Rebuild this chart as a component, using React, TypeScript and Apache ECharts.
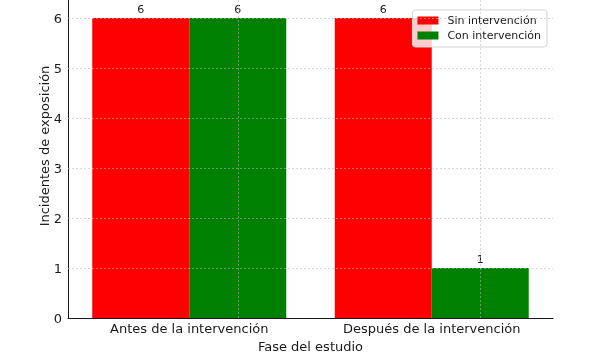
import React, { useEffect, useRef } from "react";
import * as echarts from "echarts";

const categories = ["Antes de la intervención", "Después de la intervención"];
const seriesNames = ["Sin intervención", "Con intervención"];
const sinIntervencion = [6, 6];
const conIntervencion = [6, 1];
const yGridTicks = [1, 2, 3, 4, 5, 6];
const yAxisTitle = "Incidentes de exposición";
const xAxisTitle = "Fase del estudio";

export default function App() {
  const ref = useRef<HTMLDivElement>(null);
  useEffect(() => {
    const chart = echarts.init(ref.current!, null, { renderer: "svg" });
    const font = "DejaVu Sans";
    const ink = "#1a1a1a";
    const gridLine = { color: "rgba(185,185,185,0.7)", width: 0.8, type: [2, 2] as any };
    chart.setOption({
      animation: false,
      textStyle: { fontFamily: font },
      grid: { left: 68, right: 36, top: 0, bottom: 40, containLabel: false },
      legend: {
        orient: "vertical",
        right: 42,
        top: 10,
        itemWidth: 21,
        itemHeight: 8,
        itemGap: 4,
        padding: [5, 6, 6, 5],
        backgroundColor: "rgba(255,255,255,0.8)",
        borderColor: "#d4d4d4",
        borderWidth: 1,
        borderRadius: 3,
        textStyle: { fontFamily: font, fontSize: 11, color: ink, padding: [0, 0, 0, 4] },
        data: seriesNames.map((n) => ({ name: n, icon: "rect" })),
      },
      graphic: [
        {
          type: "text",
          x: 44,
          y: 146,
          rotation: Math.PI / 2,
          style: {
            text: yAxisTitle,
            fontFamily: font,
            fontSize: 13,
            fill: ink,
            align: "center",
            verticalAlign: "middle",
          },
        },
      ],
      xAxis: {
        type: "category",
        data: categories,
        name: xAxisTitle,
        nameLocation: "middle",
        nameGap: 22,
        nameTextStyle: { fontFamily: font, fontSize: 13, color: ink },
        axisLine: { show: true, lineStyle: { color: ink, width: 1 } },
        axisTick: { show: false },
        axisLabel: { fontFamily: font, fontSize: 13, color: ink, margin: 4 },
        splitLine: { show: false },
      },
      yAxis: {
        type: "value",
        min: 0,
        max: 6.36,
        interval: 1,
        axisLine: { show: true, lineStyle: { color: ink, width: 1 } },
        axisTick: { show: false },
        axisLabel: { fontFamily: font, fontSize: 13, color: ink, margin: 6, showMaxLabel: false },
        splitLine: { show: false },
      },
      series: [
        {
          name: seriesNames[0],
          type: "bar",
          data: sinIntervencion,
          barWidth: "40%",
          barGap: "0%",
          itemStyle: { color: "#ff0000" },
          label: { show: true, position: "top", distance: 3, fontFamily: font, fontSize: 11, color: ink },
        },
        {
          name: seriesNames[1],
          type: "bar",
          data: conIntervencion,
          barWidth: "40%",
          barGap: "0%",
          itemStyle: { color: "#008000" },
          label: { show: true, position: "top", distance: 3, fontFamily: font, fontSize: 11, color: ink },
          markLine: {
            silent: true,
            symbol: ["none", "none"],
            label: { show: false },
            lineStyle: gridLine,
            emphasis: { disabled: true },
            data: [
              ...yGridTicks.map((v) => ({ yAxis: v })),
              ...categories.map((c) => ({ xAxis: c })),
            ],
          },
        },
      ],
    });
    return () => chart.dispose();
  }, []);
  return <div ref={ref} style={{ position: "fixed", left: 0, top: 0, width: 589, height: 358 }} />;
}
